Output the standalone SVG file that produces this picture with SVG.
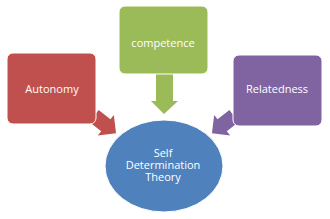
<svg xmlns="http://www.w3.org/2000/svg" width="330" height="219" viewBox="0 0 330 219">
<style>
.box{stroke:#fff;stroke-width:1}
.lbl{font-family:"Open Sans","Liberation Sans",sans-serif;font-size:11px;fill:#fff;text-anchor:middle}
</style>
<rect width="330" height="219" fill="#fff"/>
<g id="connectors">
<polygon points="0,-7.5 15,-7.5 15,-13 28,0 15,13 15,7.5 0,7.5" fill="#C0504D" transform="translate(94,116) rotate(38)"/>
<polygon points="0,-7.5 15,-7.5 15,-13 28,0 15,13 15,7.5 0,7.5" fill="#8064A2" transform="translate(234,116) rotate(142)"/>
<polygon points="156,73 173,73 173,101 178,101 164,114 151,101 156,101" fill="#9BBB59"/>
</g>
<g id="autonomy">
<rect class="box" x="7" y="53" width="89" height="71" rx="6" fill="#C0504D"/>
<text class="lbl" x="52" y="93">Autonomy</text>
</g>
<g id="competence">
<rect class="box" x="119" y="6" width="89" height="68" rx="6" fill="#9BBB59"/>
<text class="lbl" x="163" y="46.5">competence</text>
</g>
<g id="relatedness">
<rect class="box" x="233" y="55" width="89" height="71" rx="6" fill="#8064A2"/>
<text class="lbl" x="277" y="93">Relatedness</text>
</g>
<g id="sdt">
<ellipse cx="164" cy="166" rx="59" ry="46" fill="#4F81BD" stroke="#fff" stroke-width="1"/>
<text class="lbl" x="163" y="157">Self</text>
<text class="lbl" x="163" y="169">Determination</text>
<text class="lbl" x="163" y="181">Theory</text>
</g>
</svg>
